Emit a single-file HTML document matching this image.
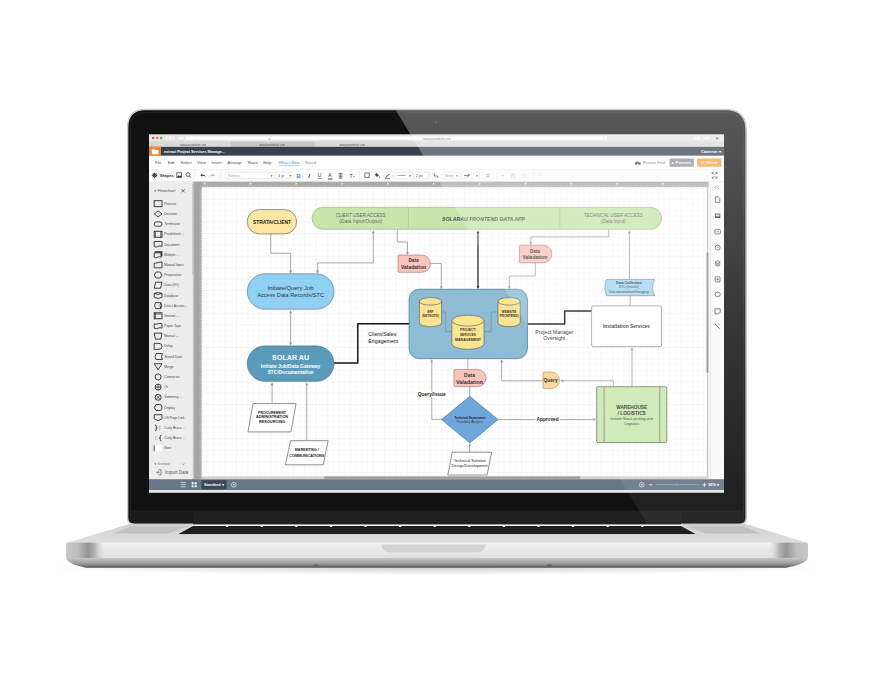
<!DOCTYPE html>
<html><head><meta charset="utf-8">
<style>
html,body{margin:0;padding:0;background:#fff;}
body{width:870px;height:683px;overflow:hidden;position:relative;font-family:"Liberation Sans",sans-serif;}
svg{position:absolute;left:0;top:0;}
</style></head>
<body>
<svg width="870" height="683" viewBox="0 0 870 683" font-family="Liberation Sans, sans-serif">
<defs>
  <linearGradient id="gFront" x1="0" y1="0" x2="0" y2="1">
    <stop offset="0" stop-color="#f2f2f2"/><stop offset="1" stop-color="#e0e0e0"/>
  </linearGradient>
  <linearGradient id="gBottom" x1="0" y1="0" x2="0" y2="1">
    <stop offset="0" stop-color="#c6c6c6"/><stop offset="0.5" stop-color="#a2a2a2"/><stop offset="0.8" stop-color="#7a7a7a"/><stop offset="1" stop-color="#4a4a4a"/>
  </linearGradient>
  <linearGradient id="gTop" x1="0" y1="0" x2="0" y2="1">
    <stop offset="0" stop-color="#d2d2d2"/><stop offset="1" stop-color="#dedede"/>
  </linearGradient>
  <linearGradient id="gEndL" x1="0" y1="0" x2="1" y2="0">
    <stop offset="0" stop-color="#c8c8c8"/><stop offset="0.3" stop-color="#bdbdbd"/><stop offset="0.55" stop-color="#949494"/><stop offset="0.72" stop-color="#b4b4b4"/><stop offset="1" stop-color="#ececec" stop-opacity="0"/>
  </linearGradient>
  <linearGradient id="gEndR" x1="1" y1="0" x2="0" y2="0">
    <stop offset="0" stop-color="#c8c8c8"/><stop offset="0.3" stop-color="#bdbdbd"/><stop offset="0.55" stop-color="#949494"/><stop offset="0.72" stop-color="#b4b4b4"/><stop offset="1" stop-color="#ececec" stop-opacity="0"/>
  </linearGradient>
  <linearGradient id="gGlare" x1="0" y1="0" x2="0" y2="1">
    <stop offset="0" stop-color="#fff" stop-opacity="0.30"/><stop offset="0.5" stop-color="#fff" stop-opacity="0.16"/><stop offset="1" stop-color="#fff" stop-opacity="0.05"/>
  </linearGradient>
  <radialGradient id="gShadow" cx="0.5" cy="0.5" r="0.5">
    <stop offset="0" stop-color="#000" stop-opacity="0.18"/><stop offset="1" stop-color="#000" stop-opacity="0"/>
  </radialGradient>
  <pattern id="grid" x="201.8" y="187.4" width="11.4" height="11.4" patternUnits="userSpaceOnUse">
    <path d="M5.7,0 V11.4 M0,5.7 H11.4" stroke="#f5f5f5" stroke-width="0.5" fill="none"/>
    <path d="M0,0 V11.4 M0,0 H11.4" stroke="#dedede" stroke-width="0.5" fill="none"/>
  </pattern>
  <clipPath id="canvasClip"><rect x="201.8" y="187.4" width="504.8" height="288.8"/></clipPath>
  <clipPath id="lidClip"><path d="M146,110 H725 Q746,110 746,131 V518 Q746,524 740,524 H134 Q128,524 128,518 V128 Q128,110 146,110 Z"/></clipPath>
</defs>

<!-- shadow under base -->
<ellipse cx="437" cy="568" rx="400" ry="7" fill="url(#gShadow)"/>

<!-- BASE -->
<polygon points="66,543 129.5,524 745.5,524 808,543" fill="url(#gTop)"/>
<polygon points="113,533.4 131.7,526 188.7,526 168.5,533.4" fill="#c2c2c2"/>
<polygon points="761,533.4 742.3,526 685.3,526 705.5,533.4" fill="#c2c2c2"/>
<polygon points="177.7,534.4 193.5,525.8 680.5,525.8 696.3,534.4" fill="#1e1e1e"/>
<polygon points="192.5,524.2 681.5,524.2 682.8,525.9 191.2,525.9" fill="#f2f2f2"/>
<rect x="178" y="534.2" width="518" height="0.8" fill="#e8e8e8"/>
<rect x="226.0" y="525.6" width="2.2" height="1.3" fill="#f4f4f4"/><rect x="260.6" y="525.6" width="2.2" height="1.3" fill="#f4f4f4"/><rect x="295.2" y="525.6" width="2.2" height="1.3" fill="#f4f4f4"/><rect x="329.8" y="525.6" width="2.2" height="1.3" fill="#f4f4f4"/><rect x="364.4" y="525.6" width="2.2" height="1.3" fill="#f4f4f4"/><rect x="399.0" y="525.6" width="2.2" height="1.3" fill="#f4f4f4"/><rect x="433.6" y="525.6" width="2.2" height="1.3" fill="#f4f4f4"/><rect x="468.2" y="525.6" width="2.2" height="1.3" fill="#f4f4f4"/><rect x="502.8" y="525.6" width="2.2" height="1.3" fill="#f4f4f4"/><rect x="537.4" y="525.6" width="2.2" height="1.3" fill="#f4f4f4"/><rect x="572.0" y="525.6" width="2.2" height="1.3" fill="#f4f4f4"/><rect x="606.6" y="525.6" width="2.2" height="1.3" fill="#f4f4f4"/><rect x="641.2" y="525.6" width="2.2" height="1.3" fill="#f4f4f4"/>
<!-- front face -->
<path d="M70,542.6 H804 Q808,543 808,548 V556 Q808,558.2 804,558.2 H70 Q66,558.2 66,556 V548 Q66,543 70,542.6 Z" fill="url(#gFront)"/>
<rect x="66" y="542.6" width="40" height="15.6" rx="2" fill="url(#gEndL)"/>
<rect x="768" y="542.6" width="40" height="15.6" rx="2" fill="url(#gEndR)"/>
<path d="M381,544.6 H486 Q484,552.4 478,552.4 H389 Q383,552.4 381,544.6 Z" fill="#d3d3d3"/>
<!-- bottom -->
<path d="M66,558 H808 Q806,564 786,567.8 H86 Q68,564 66,558 Z" fill="url(#gBottom)"/>
<ellipse cx="316" cy="565.2" rx="2.6" ry="0.7" fill="#444" opacity="0.6"/><ellipse cx="549.5" cy="565.2" rx="2.6" ry="0.7" fill="#444" opacity="0.6"/>

<!-- LID -->
<path d="M145.6,109.6 H725.2 Q746.2,109.6 746.2,130.6 V518 Q746.2,524 740.2,524 H133.6 Q127.6,524 127.6,518 V127.6 Q127.6,109.6 145.6,109.6 Z" fill="#111" stroke="#cacaca" stroke-width="1.5"/>
<path d="M146,112.4 H725 Q743.4,112.4 743.4,131 V510 M130.4,510 V128 Q130.4,112.4 146,112.4" fill="none" stroke="#242424" stroke-width="0.8"/>
<path d="M130.4,505 V517.5 Q130.4,523.2 136,523.2 H738 Q743.6,523.2 743.6,517.5 V505" fill="none" stroke="#2a2a2a" stroke-width="0.7"/>
<path d="M131,511 H743 V517.5 Q743,522.8 737.5,522.8 H136.5 Q131,522.8 131,517.5 Z" fill="#1a1a1a"/>
<path d="M131,511 H743" stroke="#222" stroke-width="0.6"/>
<rect x="193" y="512" width="488" height="12.3" fill="#1f1f1f"/>
<circle cx="436" cy="122" r="1.6" fill="#2a2a2a"/>

<!-- SCREEN -->
<g id="screen">
  <rect x="149" y="134.7" width="575" height="357.8" fill="#fff"/>
<rect x="149" y="134.7" width="575" height="6.9" fill="#e4e4e4"/>
<rect x="149" y="134.7" width="575" height="1.2" fill="#ececec"/>
<circle cx="153.1" cy="138.1" r="1.25" fill="#e0544c"/>
<circle cx="157.2" cy="138.1" r="1.25" fill="#e5705a"/>
<circle cx="161.2" cy="138.1" r="1.25" fill="#5bb55a"/>
<rect x="165" y="136.2" width="10.5" height="3.9" rx="0.8" fill="#f7f7f7" stroke="#cfcfcf" stroke-width="0.3"/>
<path d="M168.6,137.3 l-1,0.9 l1,0.9 M172.2,137.3 l1,0.9 l-1,0.9" fill="none" stroke="#999" stroke-width="0.35"/>
<rect x="177.8" y="136.2" width="6.6" height="3.9" rx="0.8" fill="#f7f7f7" stroke="#cfcfcf" stroke-width="0.3"/>
<rect x="185.2" y="136.2" width="422" height="4" rx="0.6" fill="#ffffff" stroke="#d6d6d6" stroke-width="0.3"/>
<text x="437" y="139.6" font-size="2.8" fill="#666" text-anchor="middle">www.yourwebsite.com</text>
<text x="268" y="139.6" font-size="2.8" fill="#999">⊕</text>
<text x="603" y="139.7" font-size="3" fill="#999">×</text>
<rect x="693" y="136.3" width="8" height="3.8" rx="0.8" fill="#f4f4f4" stroke="#cfcfcf" stroke-width="0.3"/>
<rect x="703" y="136.3" width="8" height="3.8" rx="0.8" fill="#f4f4f4" stroke="#cfcfcf" stroke-width="0.3"/>
<circle cx="717" cy="138.2" r="1.2" fill="#888"/>
<rect x="149" y="141.6" width="575" height="5.2" fill="#d9d9d9"/>
<rect x="149" y="141.6" width="575" height="0.3" fill="#c4c4c4"/>
<rect x="231" y="141.8" width="84" height="5" fill="#c8c8c8"/>
<text x="193" y="145.6" font-size="2.6" fill="#555" text-anchor="middle">www.yourwebsite.com</text>
<text x="272" y="145.6" font-size="2.6" fill="#555" text-anchor="middle">www.yourwebsite.com</text>
<text x="352" y="145.6" font-size="2.6" fill="#555" text-anchor="middle">www.yourwebsite.com</text>
<text x="151" y="145.6" font-size="2.6" fill="#777">+</text>
<rect x="149" y="146.8" width="575" height="9.0" fill="#37424d"/>
<rect x="149" y="146.8" width="12" height="9.0" fill="#f0892a"/>
<path d="M151.8,149.2 h2.6 l0.8,0.8 h3.2 v4.2 h-6.6 z" fill="#fff"/>
<text x="164" y="152.6" font-size="3.75" font-weight="bold" fill="#fff">extract Project Services Manage...</text>
<text x="701" y="152.7" font-size="3.85" font-weight="bold" fill="#fff">Cameron ▾</text>
<rect x="149" y="155.8" width="575" height="13.7" fill="#ffffff"/>
<text x="155" y="164.3" font-size="4.0" fill="#4a4a4a">File</text>
<text x="167.8" y="164.3" font-size="4.0" fill="#4a4a4a">Edit</text>
<text x="180.5" y="164.3" font-size="4.0" fill="#4a4a4a">Select</text>
<text x="197.3" y="164.3" font-size="4.0" fill="#4a4a4a">View</text>
<text x="211.5" y="164.3" font-size="4.0" fill="#4a4a4a">Insert</text>
<text x="227.6" y="164.3" font-size="4.0" fill="#4a4a4a">Arrange</text>
<text x="247.2" y="164.3" font-size="4.0" fill="#4a4a4a">Share</text>
<text x="263.2" y="164.3" font-size="4.0" fill="#4a4a4a">Help</text>
<text x="278.2" y="164.3" font-size="4.05" fill="#3a8fd6">What's New</text>
<rect x="278.2" y="165.2" width="21.4" height="0.35" fill="#3a8fd6"/>
<text x="304.7" y="164.3" font-size="4.0" fill="#888">Saved</text>
<text x="643" y="164.1" font-size="3.85" fill="#666">Feature Find</text>
<path d="M635,163.8 l0.8,-2.2 h2.6 l0.8,2.2" fill="#555"/><circle cx="636.2" cy="163.6" r="1.4" fill="#555"/><circle cx="639.4" cy="163.6" r="1.4" fill="#555"/>
<rect x="669.6" y="158.5" width="24.2" height="8.2" rx="0.8" fill="#8c939b"/>
<text x="681.7" y="164.2" font-size="4.2" font-weight="bold" fill="#fff" text-anchor="middle">▸ Present</text>
<rect x="697" y="158.5" width="24.5" height="8.2" rx="0.8" fill="#f5a045"/>
<text x="709.2" y="164.2" font-size="4.2" font-weight="bold" fill="#fff" text-anchor="middle">⚇ Share</text>
<rect x="149" y="169.5" width="575" height="12.3" fill="#fbfbfb"/>
<rect x="149" y="169.5" width="575" height="0.4" fill="#e2e2e2"/>
<rect x="149" y="181.4" width="575" height="0.4" fill="#d8d8d8"/>
<circle cx="154.6" cy="175.4" r="1.6" fill="none" stroke="#333" stroke-width="1.1"/><path d="M154.6,172.6 v5.6 M151.8,175.4 h5.6 M152.6,173.4 l4,4 M156.6,173.4 l-4,4" stroke="#333" stroke-width="0.7"/>
<text x="159.8" y="177.4" font-size="3.9" font-weight="bold" fill="#333">Shapes</text>
<rect x="176.8" y="172.8" width="4.6" height="4.6" fill="none" stroke="#333" stroke-width="0.7"/><path d="M177,177 l1.6,-1.8 l1.2,1 l1.4,-1.4 v2.4z" fill="#333"/>
<circle cx="188" cy="174.6" r="1.9" fill="none" stroke="#333" stroke-width="0.7"/><line x1="189.3" y1="176" x2="191" y2="177.8" stroke="#333" stroke-width="0.8"/>
<rect x="194.5" y="171" width="0.35" height="9.5" fill="#ddd"/>
<rect x="220.4" y="171" width="0.35" height="9.5" fill="#ddd"/>
<rect x="359" y="171" width="0.35" height="9.5" fill="#ddd"/>
<rect x="392.8" y="171" width="0.35" height="9.5" fill="#ddd"/>
<rect x="496" y="171" width="0.35" height="9.5" fill="#ddd"/>
<rect x="533.7" y="171" width="0.35" height="9.5" fill="#ddd"/>
<path d="M200.3,175.2 l2,-1.6 v1 q3,0 3.5,2.6 q-1.2,-1.4 -3.5,-1.4 v1 z" fill="#444"/>
<path d="M214.8,175.2 l-2,-1.6 v1 q-3,0 -3.5,2.6 q1.2,-1.4 3.5,-1.4 v1 z" fill="#bbb"/>
<rect x="225.6" y="172.2" width="48.3" height="6.2" rx="0.6" fill="#fff" stroke="#cfcfcf" stroke-width="0.35"/>
<text x="228" y="176.8" font-size="3.8" fill="#aaa">Roboto</text>
<text x="270" y="176.8" font-size="3" fill="#444">▼</text>
<rect x="275.6" y="172.2" width="17.2" height="6.2" rx="0.6" fill="#fff" stroke="#cfcfcf" stroke-width="0.35"/>
<text x="278" y="176.8" font-size="3.8" fill="#666">4 pt</text>
<text x="289" y="176.8" font-size="3" fill="#444">▼</text>
<text x="296.6" y="178" font-size="5.8" font-weight="bold" fill="#3a8fd6">B</text>
<text x="308.2" y="178" font-size="5.8" font-style="italic" font-weight="bold" fill="#333">I</text>
<text x="317.8" y="177.4" font-size="5" fill="#333">U</text><rect x="317.8" y="178.5" width="3.8" height="0.5" fill="#333"/>
<text x="328.3" y="177.4" font-size="5" fill="#333">A</text><rect x="328.1" y="178.6" width="4.4" height="0.8" fill="#222"/>
<path d="M338.6,173.4 h4 M338.6,175 h4 M338.6,176.6 h4 M338.6,178.2 h4" stroke="#444" stroke-width="0.6"/><path d="M340.6,172.8 v6" stroke="#444" stroke-width="0.5"/>
<text x="349.4" y="177.8" font-size="5.2" fill="#444">T</text><path d="M353.2,176.4 h1.6" stroke="#444" stroke-width="0.5"/>
<rect x="364.9" y="173" width="4.3" height="4.3" fill="none" stroke="#444" stroke-width="0.7"/>
<path d="M374.8,174.8 l1.8,-1.8 l2.2,2.2 l-1.8,1.8 z" fill="#444"/><circle cx="379.4" cy="177" r="0.6" fill="#444"/>
<path d="M385.5,177.8 l3.8,-3.8" stroke="#333" stroke-width="0.9"/><rect x="385" y="178.6" width="5" height="0.5" fill="#222"/>
<rect x="395.6" y="172.2" width="17.2" height="6.2" rx="0.6" fill="#fff" stroke="#cfcfcf" stroke-width="0.35"/>
<rect x="397.5" y="175.1" width="8" height="0.5" fill="#555"/><text x="408.5" y="176.8" font-size="3" fill="#444">▼</text>
<rect x="414" y="172.2" width="15" height="6.2" rx="0.6" fill="#fff" stroke="#cfcfcf" stroke-width="0.35"/>
<text x="416" y="176.8" font-size="3.6" fill="#555">2 px</text>
<path d="M434.3,173 v3 h3.4 v2" fill="none" stroke="#444" stroke-width="0.7"/>
<rect x="443.3" y="172.2" width="16.4" height="6.2" rx="0.6" fill="#fff" stroke="#cfcfcf" stroke-width="0.35"/>
<text x="445" y="176.8" font-size="3.6" fill="#777">None</text><text x="455.5" y="176.8" font-size="3" fill="#444">▼</text>
<rect x="461.4" y="172.2" width="18" height="6.2" rx="0.6" fill="#fff" stroke="#cfcfcf" stroke-width="0.35"/>
<path d="M464,175.3 h6 l-1.5,-1.3 v2.6 z" fill="#444" stroke="#444" stroke-width="0.4"/><text x="475.5" y="176.8" font-size="3" fill="#444">▼</text>
<text x="485.6" y="177" font-size="4.2" fill="#bbb">⇄</text>
<text x="500.5" y="177.2" font-size="4.4" fill="#bbb">⚭</text>
<path d="M511.8,177.8 v-2.4 q0,-1.6 1.4,-1.6 q1.4,0 1.4,1.6 v2.4" fill="none" stroke="#aaa" stroke-width="0.6"/>
<circle cx="524" cy="175.6" r="1.6" fill="none" stroke="#ccc" stroke-width="0.5"/>
<path d="M538.8,173.6 l2.6,2.6" stroke="#ccc" stroke-width="0.6"/>
<path d="M712.3,172.6 l2,2 M712.3,172.6 h1.4 M712.3,172.6 v1.4 M717,172.6 l-2,2 M717,172.6 h-1.4 M717,172.6 v1.4 M712.3,178.2 l2,-2 M712.3,178.2 h1.4 M712.3,178.2 v-1.4 M717,178.2 l-2,-2 M717,178.2 h-1.4 M717,178.2 v-1.4" stroke="#333" stroke-width="0.7"/>
<rect x="149" y="181.8" width="44.8" height="297.4" fill="#ededed"/>
<rect x="192" y="181.8" width="1.6" height="297.4" fill="#e2e2e2"/>
<rect x="192.2" y="184" width="1.2" height="90" fill="#c4c4c4"/>
<text x="153.8" y="191.8" font-size="3" fill="#555">▼</text>
<text x="157.5" y="192.1" font-size="4.15" fill="#555">Flowchart</text>
<path d="M181.5,189.2 l3.2,3.2 M184.7,189.2 l-3.2,3.2" stroke="#333" stroke-width="0.65"/>
<rect x="154.2" y="200.7" width="7.8" height="6" fill="none" stroke="#222" stroke-width="0.85"/>
<text x="164.3" y="204.79999999999998" font-size="3.3" fill="#444">Process</text>
<path d="M154.2,213.89 L158.1,210.89 L162.0,213.89 L158.1,216.89 Z" fill="none" stroke="#222" stroke-width="0.85"/>
<text x="164.3" y="214.98999999999998" font-size="3.3" fill="#444">Decision</text>
<rect x="154.2" y="221.88" width="7.8" height="4.4" rx="2.2" fill="none" stroke="#222" stroke-width="0.85"/>
<text x="164.3" y="225.17999999999998" font-size="3.3" fill="#444">Terminator</text>
<rect x="154.2" y="231.26999999999998" width="7.8" height="6" fill="none" stroke="#222" stroke-width="0.85"/><path d="M155.4,231.26999999999998 v6 M160.8,231.26999999999998 v6" stroke="#222" stroke-width="0.7"/>
<text x="164.3" y="235.36999999999998" font-size="3.3" fill="#444">Predefined ...</text>
<path d="M154.2,241.45999999999998 h7.8 v5 q-2,-1.2 -3.9,0 q-1.9,1.2 -3.9,0 z" fill="none" stroke="#222" stroke-width="0.85"/>
<text x="164.3" y="245.55999999999997" font-size="3.3" fill="#444">Document</text>
<path d="M154.2,252.84999999999997 h6.8 v4.4 q-1.7,-1 -3.4,0 q-1.7,1 -3.4,0 z" fill="none" stroke="#222" stroke-width="0.85"/><path d="M154.79999999999998,251.84999999999997 h7 v4.6" fill="none" stroke="#222" stroke-width="1.2"/>
<text x="164.3" y="255.74999999999997" font-size="3.3" fill="#444">Multiple ...</text>
<path d="M154.2,263.34 L162.0,261.84 V267.84 H154.2 Z" fill="none" stroke="#222" stroke-width="0.85"/>
<text x="164.3" y="265.94" font-size="3.3" fill="#444">Manual Input</text>
<path d="M154.2,275.03 L156,272.03 H160.2 L162.0,275.03 L160.2,278.03 H156 Z" fill="none" stroke="#222" stroke-width="0.85"/>
<text x="164.3" y="276.13" font-size="3.3" fill="#444">Preparation</text>
<path d="M155.6,282.21999999999997 H162.0 L160.6,288.21999999999997 H154.2 Z" fill="none" stroke="#222" stroke-width="0.85"/>
<text x="164.3" y="286.32" font-size="3.3" fill="#444">Data (I/O)</text>
<path d="M154.2,293.40999999999997 V297.40999999999997 Q158.1,299.40999999999997 162.0,297.40999999999997 V293.40999999999997 Q158.1,291.40999999999997 154.2,293.40999999999997 Q158.1,295.40999999999997 162.0,293.40999999999997" fill="none" stroke="#222" stroke-width="0.85"/>
<text x="164.3" y="296.51" font-size="3.3" fill="#444">Database</text>
<path d="M155.5,302.59999999999997 H160.7 Q162.8,305.59999999999997 160.7,308.59999999999997 H155.5 Q153.6,305.59999999999997 155.5,302.59999999999997 M160.7,302.59999999999997 Q159.3,305.59999999999997 160.7,308.59999999999997" fill="none" stroke="#222" stroke-width="0.85"/>
<text x="164.3" y="306.7" font-size="3.3" fill="#444">Direct Access...</text>
<rect x="154.2" y="312.78999999999996" width="7.8" height="6" fill="none" stroke="#222" stroke-width="0.85"/><path d="M154.2,313.98999999999995 h7.8 M155.4,312.78999999999996 v6" stroke="#222" stroke-width="0.7"/>
<text x="164.3" y="316.89" font-size="3.3" fill="#444">Internal ...</text>
<path d="M154.2,323.78000000000003 q2,1 3.9,0 q1.9,-1 3.9,0 v4.4 q-2,-1 -3.9,0 q-1.9,1 -3.9,0 z" fill="none" stroke="#222" stroke-width="0.85"/>
<text x="164.3" y="327.08000000000004" font-size="3.3" fill="#444">Paper Tape</text>
<path d="M154.2,333.16999999999996 H162.0 L160.8,339.16999999999996 H155.4 Z" fill="none" stroke="#222" stroke-width="0.85"/>
<text x="164.3" y="337.27" font-size="3.3" fill="#444">Manual ...</text>
<path d="M154.2,343.36 H159 Q162.0,343.36 162.0,346.36 Q162.0,349.36 159,349.36 H154.2 Z" fill="none" stroke="#222" stroke-width="0.85"/>
<text x="164.3" y="347.46000000000004" font-size="3.3" fill="#444">Delay</text>
<path d="M156,353.54999999999995 H162.4 Q160.6,356.54999999999995 162.4,359.54999999999995 H156 Q154.2,356.54999999999995 156,353.54999999999995 Z" fill="none" stroke="#222" stroke-width="0.85"/>
<text x="164.3" y="357.65" font-size="3.3" fill="#444">Stored Data</text>
<path d="M154.2,363.74 H162.0 L158.1,369.74 Z" fill="none" stroke="#222" stroke-width="0.85"/>
<text x="164.3" y="367.84000000000003" font-size="3.3" fill="#444">Merge</text>
<circle cx="158.1" cy="376.92999999999995" r="3" fill="none" stroke="#222" stroke-width="0.85"/>
<text x="164.3" y="378.03" font-size="3.3" fill="#444">Connector</text>
<circle cx="158.1" cy="387.12" r="3" fill="none" stroke="#222" stroke-width="0.85"/><path d="M155.1,387.12 h6 M158.1,384.12 v6" stroke="#222" stroke-width="0.7"/>
<text x="164.3" y="388.22" font-size="3.3" fill="#444">Or</text>
<circle cx="158.1" cy="397.30999999999995" r="3" fill="none" stroke="#222" stroke-width="0.85"/><path d="M156,395.2099999999999 l4.2,4.2 M160.2,395.2099999999999 l-4.2,4.2" stroke="#222" stroke-width="0.7"/>
<text x="164.3" y="398.40999999999997" font-size="3.3" fill="#444">Summing ...</text>
<path d="M156,404.5 H160 Q162.0,404.5 162.0,407.5 Q162.0,410.5 160,410.5 H156 L154.2,407.5 Z" fill="none" stroke="#222" stroke-width="0.85"/>
<text x="164.3" y="408.6" font-size="3.3" fill="#444">Display</text>
<path d="M154.2,414.68999999999994 H162.0 V418.68999999999994 L158.1,420.68999999999994 L154.2,418.68999999999994 Z" fill="none" stroke="#222" stroke-width="0.85"/>
<text x="164.3" y="418.78999999999996" font-size="3.3" fill="#444">Off-Page Link</text>
<path d="M155,424.88 q1.2,0 1.2,1.5 v1 q0,0.5 1,0.5 q-1,0 -1,0.5 v1 q0,1.5 -1.2,1.5" fill="none" stroke="#222" stroke-width="0.85"/><path d="M159,426.38 h1.5 M159,427.88 h1.5 M159,429.38 h1.5" stroke="#555" stroke-width="0.4"/>
<text x="164.3" y="428.98" font-size="3.3" fill="#444">Curly Brace ...</text>
<path d="M161.5,435.06999999999994 q-1.2,0 -1.2,1.5 v1 q0,0.5 -1,0.5 q1,0 1,0.5 v1 q0,1.5 1.2,1.5" fill="none" stroke="#222" stroke-width="0.85"/><path d="M155,436.56999999999994 h1.5 M155,438.06999999999994 h1.5 M155,439.56999999999994 h1.5" stroke="#555" stroke-width="0.4"/>
<text x="164.3" y="439.16999999999996" font-size="3.3" fill="#444">Curly Brace ...</text>
<rect x="154.2" y="445.26" width="7.8" height="6" fill="#fff"/><path d="M154.2,445.26 v6" stroke="#222" stroke-width="0.8"/>
<text x="164.3" y="449.36" font-size="3.3" fill="#444">Note</text>
<text x="153.8" y="465.2" font-size="3" fill="#777">▼  Standard</text>
<path d="M182,463.5 l1.3,1.3 l1.3,-1.3" fill="none" stroke="#555" stroke-width="0.5"/>
<rect x="149" y="467.5" width="43" height="0.35" fill="#e2e2e2"/>
<path d="M156,472.3 h3.2 m-1.2,-1.2 l1.2,1.2 l-1.2,1.2 M158.4,469.8 h2.6 v5 h-2.6" fill="none" stroke="#444" stroke-width="0.6"/>
<text x="164.8" y="474.3" font-size="4.5" fill="#555">Import Data</text>
<rect x="193.6" y="181.8" width="530" height="5.6" fill="#aaaaaa"/>
<rect x="193.6" y="181.8" width="8.2" height="297.4" fill="#a5a5a5"/>
<path d="M203.0,185.5 v1.9 M205.3,185.5 v1.9 M207.6,185.5 v1.9 M209.9,185.5 v1.9 M212.2,185.5 v1.9 M214.4,185.5 v1.9 M216.7,185.5 v1.9 M219.0,185.5 v1.9 M221.3,185.5 v1.9 M223.6,185.5 v1.9 M225.9,185.5 v1.9 M228.2,185.5 v1.9 M230.5,185.5 v1.9 M232.8,185.5 v1.9 M235.1,185.5 v1.9 M237.3,185.5 v1.9 M239.6,185.5 v1.9 M241.9,185.5 v1.9 M244.2,185.5 v1.9 M246.5,185.5 v1.9 M248.8,185.5 v1.9 M251.1,185.5 v1.9 M253.4,185.5 v1.9 M255.7,185.5 v1.9 M258.0,185.5 v1.9 M260.2,185.5 v1.9 M262.5,185.5 v1.9 M264.8,185.5 v1.9 M267.1,185.5 v1.9 M269.4,185.5 v1.9 M271.7,185.5 v1.9 M274.0,185.5 v1.9 M276.3,185.5 v1.9 M278.6,185.5 v1.9 M280.9,185.5 v1.9 M283.2,185.5 v1.9 M285.4,185.5 v1.9 M287.7,185.5 v1.9 M290.0,185.5 v1.9 M292.3,185.5 v1.9 M294.6,185.5 v1.9 M296.9,185.5 v1.9 M299.2,185.5 v1.9 M301.5,185.5 v1.9 M303.8,185.5 v1.9 M306.1,185.5 v1.9 M308.3,185.5 v1.9 M310.6,185.5 v1.9 M312.9,185.5 v1.9 M315.2,185.5 v1.9 M317.5,185.5 v1.9 M319.8,185.5 v1.9 M322.1,185.5 v1.9 M324.4,185.5 v1.9 M326.7,185.5 v1.9 M329.0,185.5 v1.9 M331.2,185.5 v1.9 M333.5,185.5 v1.9 M335.8,185.5 v1.9 M338.1,185.5 v1.9 M340.4,185.5 v1.9 M342.7,185.5 v1.9 M345.0,185.5 v1.9 M347.3,185.5 v1.9 M349.6,185.5 v1.9 M351.9,185.5 v1.9 M354.1,185.5 v1.9 M356.4,185.5 v1.9 M358.7,185.5 v1.9 M361.0,185.5 v1.9 M363.3,185.5 v1.9 M365.6,185.5 v1.9 M367.9,185.5 v1.9 M370.2,185.5 v1.9 M372.5,185.5 v1.9 M374.8,185.5 v1.9 M377.0,185.5 v1.9 M379.3,185.5 v1.9 M381.6,185.5 v1.9 M383.9,185.5 v1.9 M386.2,185.5 v1.9 M388.5,185.5 v1.9 M390.8,185.5 v1.9 M393.1,185.5 v1.9 M395.4,185.5 v1.9 M397.7,185.5 v1.9 M399.9,185.5 v1.9 M402.2,185.5 v1.9 M404.5,185.5 v1.9 M406.8,185.5 v1.9 M409.1,185.5 v1.9 M411.4,185.5 v1.9 M413.7,185.5 v1.9 M416.0,185.5 v1.9 M418.3,185.5 v1.9 M420.6,185.5 v1.9 M422.8,185.5 v1.9 M425.1,185.5 v1.9 M427.4,185.5 v1.9 M429.7,185.5 v1.9 M432.0,185.5 v1.9 M434.3,185.5 v1.9 M436.6,185.5 v1.9 M438.9,185.5 v1.9 M441.2,185.5 v1.9 M443.5,185.5 v1.9 M445.7,185.5 v1.9 M448.0,185.5 v1.9 M450.3,185.5 v1.9 M452.6,185.5 v1.9 M454.9,185.5 v1.9 M457.2,185.5 v1.9 M459.5,185.5 v1.9 M461.8,185.5 v1.9 M464.1,185.5 v1.9 M466.4,185.5 v1.9 M468.6,185.5 v1.9 M470.9,185.5 v1.9 M473.2,185.5 v1.9 M475.5,185.5 v1.9 M477.8,185.5 v1.9 M480.1,185.5 v1.9 M482.4,185.5 v1.9 M484.7,185.5 v1.9 M487.0,185.5 v1.9 M489.3,185.5 v1.9 M491.5,185.5 v1.9 M493.8,185.5 v1.9 M496.1,185.5 v1.9 M498.4,185.5 v1.9 M500.7,185.5 v1.9 M503.0,185.5 v1.9 M505.3,185.5 v1.9 M507.6,185.5 v1.9 M509.9,185.5 v1.9 M512.2,185.5 v1.9 M514.4,185.5 v1.9 M516.7,185.5 v1.9 M519.0,185.5 v1.9 M521.3,185.5 v1.9 M523.6,185.5 v1.9 M525.9,185.5 v1.9 M528.2,185.5 v1.9 M530.5,185.5 v1.9 M532.8,185.5 v1.9 M535.1,185.5 v1.9 M537.3,185.5 v1.9 M539.6,185.5 v1.9 M541.9,185.5 v1.9 M544.2,185.5 v1.9 M546.5,185.5 v1.9 M548.8,185.5 v1.9 M551.1,185.5 v1.9 M553.4,185.5 v1.9 M555.7,185.5 v1.9 M558.0,185.5 v1.9 M560.2,185.5 v1.9 M562.5,185.5 v1.9 M564.8,185.5 v1.9 M567.1,185.5 v1.9 M569.4,185.5 v1.9 M571.7,185.5 v1.9 M574.0,185.5 v1.9 M576.3,185.5 v1.9 M578.6,185.5 v1.9 M580.9,185.5 v1.9 M583.1,185.5 v1.9 M585.4,185.5 v1.9 M587.7,185.5 v1.9 M590.0,185.5 v1.9 M592.3,185.5 v1.9 M594.6,185.5 v1.9 M596.9,185.5 v1.9 M599.2,185.5 v1.9 M601.5,185.5 v1.9 M603.8,185.5 v1.9 M606.0,185.5 v1.9 M608.3,185.5 v1.9 M610.6,185.5 v1.9 M612.9,185.5 v1.9 M615.2,185.5 v1.9 M617.5,185.5 v1.9 M619.8,185.5 v1.9 M622.1,185.5 v1.9 M624.4,185.5 v1.9 M626.7,185.5 v1.9 M628.9,185.5 v1.9 M631.2,185.5 v1.9 M633.5,185.5 v1.9 M635.8,185.5 v1.9 M638.1,185.5 v1.9 M640.4,185.5 v1.9 M642.7,185.5 v1.9 M645.0,185.5 v1.9 M647.3,185.5 v1.9 M649.5,185.5 v1.9 M651.8,185.5 v1.9 M654.1,185.5 v1.9 M656.4,185.5 v1.9 M658.7,185.5 v1.9 M661.0,185.5 v1.9 M663.3,185.5 v1.9 M665.6,185.5 v1.9 M667.9,185.5 v1.9 M670.2,185.5 v1.9 M672.4,185.5 v1.9 M674.7,185.5 v1.9 M677.0,185.5 v1.9 M679.3,185.5 v1.9 M681.6,185.5 v1.9 M683.9,185.5 v1.9 M686.2,185.5 v1.9 M688.5,185.5 v1.9 M690.8,185.5 v1.9 M693.1,185.5 v1.9 M695.3,185.5 v1.9 M697.6,185.5 v1.9 M699.9,185.5 v1.9 M702.2,185.5 v1.9 M704.5,185.5 v1.9 M706.8,185.5 v1.9" stroke="#e8e8e8" stroke-width="0.4"/>
<path d="M199.5,189.0 h2.2 M199.5,191.3 h2.2 M199.5,193.6 h2.2 M199.5,195.9 h2.2 M199.5,198.2 h2.2 M199.5,200.4 h2.2 M199.5,202.7 h2.2 M199.5,205.0 h2.2 M199.5,207.3 h2.2 M199.5,209.6 h2.2 M199.5,211.9 h2.2 M199.5,214.2 h2.2 M199.5,216.5 h2.2 M199.5,218.8 h2.2 M199.5,221.1 h2.2 M199.5,223.3 h2.2 M199.5,225.6 h2.2 M199.5,227.9 h2.2 M199.5,230.2 h2.2 M199.5,232.5 h2.2 M199.5,234.8 h2.2 M199.5,237.1 h2.2 M199.5,239.4 h2.2 M199.5,241.7 h2.2 M199.5,244.0 h2.2 M199.5,246.2 h2.2 M199.5,248.5 h2.2 M199.5,250.8 h2.2 M199.5,253.1 h2.2 M199.5,255.4 h2.2 M199.5,257.7 h2.2 M199.5,260.0 h2.2 M199.5,262.3 h2.2 M199.5,264.6 h2.2 M199.5,266.9 h2.2 M199.5,269.1 h2.2 M199.5,271.4 h2.2 M199.5,273.7 h2.2 M199.5,276.0 h2.2 M199.5,278.3 h2.2 M199.5,280.6 h2.2 M199.5,282.9 h2.2 M199.5,285.2 h2.2 M199.5,287.5 h2.2 M199.5,289.8 h2.2 M199.5,292.1 h2.2 M199.5,294.3 h2.2 M199.5,296.6 h2.2 M199.5,298.9 h2.2 M199.5,301.2 h2.2 M199.5,303.5 h2.2 M199.5,305.8 h2.2 M199.5,308.1 h2.2 M199.5,310.4 h2.2 M199.5,312.7 h2.2 M199.5,315.0 h2.2 M199.5,317.2 h2.2 M199.5,319.5 h2.2 M199.5,321.8 h2.2 M199.5,324.1 h2.2 M199.5,326.4 h2.2 M199.5,328.7 h2.2 M199.5,331.0 h2.2 M199.5,333.3 h2.2 M199.5,335.6 h2.2 M199.5,337.9 h2.2 M199.5,340.1 h2.2 M199.5,342.4 h2.2 M199.5,344.7 h2.2 M199.5,347.0 h2.2 M199.5,349.3 h2.2 M199.5,351.6 h2.2 M199.5,353.9 h2.2 M199.5,356.2 h2.2 M199.5,358.5 h2.2 M199.5,360.8 h2.2 M199.5,363.0 h2.2 M199.5,365.3 h2.2 M199.5,367.6 h2.2 M199.5,369.9 h2.2 M199.5,372.2 h2.2 M199.5,374.5 h2.2 M199.5,376.8 h2.2 M199.5,379.1 h2.2 M199.5,381.4 h2.2 M199.5,383.7 h2.2 M199.5,385.9 h2.2 M199.5,388.2 h2.2 M199.5,390.5 h2.2 M199.5,392.8 h2.2 M199.5,395.1 h2.2 M199.5,397.4 h2.2 M199.5,399.7 h2.2 M199.5,402.0 h2.2 M199.5,404.3 h2.2 M199.5,406.6 h2.2 M199.5,408.8 h2.2 M199.5,411.1 h2.2 M199.5,413.4 h2.2 M199.5,415.7 h2.2 M199.5,418.0 h2.2 M199.5,420.3 h2.2 M199.5,422.6 h2.2 M199.5,424.9 h2.2 M199.5,427.2 h2.2 M199.5,429.5 h2.2 M199.5,431.7 h2.2 M199.5,434.0 h2.2 M199.5,436.3 h2.2 M199.5,438.6 h2.2 M199.5,440.9 h2.2 M199.5,443.2 h2.2 M199.5,445.5 h2.2 M199.5,447.8 h2.2 M199.5,450.1 h2.2 M199.5,452.4 h2.2 M199.5,454.6 h2.2 M199.5,456.9 h2.2 M199.5,459.2 h2.2 M199.5,461.5 h2.2 M199.5,463.8 h2.2 M199.5,466.1 h2.2 M199.5,468.4 h2.2 M199.5,470.7 h2.2 M199.5,473.0 h2.2 M199.5,475.3 h2.2" stroke="#e8e8e8" stroke-width="0.4"/>
<path d="M203.8,182.5 l2,1.3 l-2,1.3 z" fill="#f2f2f2"/>
<path d="M249.7,182.5 l2,1.3 l-2,1.3 z" fill="#f2f2f2"/>
<path d="M295.5,182.5 l2,1.3 l-2,1.3 z" fill="#f2f2f2"/>
<path d="M341.4,182.5 l2,1.3 l-2,1.3 z" fill="#f2f2f2"/>
<path d="M387.2,182.5 l2,1.3 l-2,1.3 z" fill="#f2f2f2"/>
<path d="M433.1,182.5 l2,1.3 l-2,1.3 z" fill="#f2f2f2"/>
<path d="M478.9,182.5 l2,1.3 l-2,1.3 z" fill="#f2f2f2"/>
<path d="M524.8,182.5 l2,1.3 l-2,1.3 z" fill="#f2f2f2"/>
<path d="M570.6,182.5 l2,1.3 l-2,1.3 z" fill="#f2f2f2"/>
<path d="M616.5,182.5 l2,1.3 l-2,1.3 z" fill="#f2f2f2"/>
<path d="M662.3,182.5 l2,1.3 l-2,1.3 z" fill="#f2f2f2"/>
<rect x="201.8" y="187.4" width="506.2" height="288.8" fill="#ffffff"/>
<rect x="201.8" y="187.4" width="506.2" height="288.8" fill="url(#grid)"/>
<rect x="706.8" y="187.4" width="1.6" height="288.8" fill="#c2c2c2"/>
<rect x="706.6" y="252.5" width="2" height="120.5" rx="0.8" fill="#8a8a8a"/>
<rect x="201.8" y="476.2" width="522" height="3" fill="#d4d4d4"/>
<rect x="324" y="476.5" width="256.5" height="2.2" rx="1" fill="#9b9b9b"/>
<rect x="708.6" y="181.8" width="15.4" height="297.4" fill="#f3f3f3"/>
<rect x="711" y="181.8" width="13" height="297.4" fill="#fafafa"/>
<rect x="710.6" y="187.4" width="0.5" height="288.8" fill="#dadada"/>
<path d="M716.6,185.6 l-1.6,1.8 l1.6,1.8 M719,185.6 l-1.6,1.8 l1.6,1.8" fill="none" stroke="#555" stroke-width="0.55"/>
<path d="M715.4,196.8 h2.8 l1.5,1.5 v4.2 h-4.3 z" fill="none" stroke="#333" stroke-width="0.7"/>
<rect x="715" y="213.6" width="5.2" height="4.4" fill="#333"/><rect x="715.8" y="214.4" width="3.6" height="2" fill="#ddd"/>
<rect x="714.8" y="229.6" width="5.6" height="4.4" rx="0.6" fill="none" stroke="#333" stroke-width="0.7"/><path d="M716.2,231.8 h2.8" stroke="#333" stroke-width="0.6"/>
<circle cx="717.6" cy="247.7" r="2.5" fill="none" stroke="#333" stroke-width="0.7"/><path d="M717.6,246.2 v1.6 h1" stroke="#333" stroke-width="0.5" fill="none"/>
<path d="M717.6,260.6 l2.6,1.4 l-2.6,1.4 l-2.6,-1.4 z M715,263.4 l2.6,1.4 l2.6,-1.4 M715,264.8 l2.6,1.4 l2.6,-1.4" fill="none" stroke="#333" stroke-width="0.7"/>
<rect x="715.2" y="276.8" width="4.8" height="5.2" rx="0.6" fill="none" stroke="#333" stroke-width="0.7"/><path d="M717.6,278 v2.8 M716.2,279.4 h2.8" stroke="#333" stroke-width="0.5"/>
<ellipse cx="717.6" cy="294.4" rx="2.7" ry="2.2" fill="none" stroke="#333" stroke-width="0.7"/>
<path d="M715,308.8 h5.2 v3.6 l-2,1.4 h-3.2 z" fill="none" stroke="#333" stroke-width="0.7"/>
<path d="M715,324 l4.6,4.6 M718.6,324 l1.2,1.2" stroke="#333" stroke-width="0.8"/>
<rect x="149" y="479.2" width="575" height="11.1" fill="#6a7786"/>
<rect x="149" y="490.3" width="575" height="2.2" fill="#e9e9e9"/>
<path d="M180.8,482.4 h5 M180.8,484.6 h5 M180.8,486.8 h5" stroke="#fff" stroke-width="0.6"/>
<path d="M191.6,482.3 h2 v2 h-2 z M194.6,482.3 h2 v2 h-2 z M191.6,485.3 h2 v2 h-2 z M194.6,485.3 h2 v2 h-2 z" fill="#fff"/>
<rect x="201.4" y="480.2" width="25.2" height="9.2" fill="#3b4856"/>
<text x="204" y="486.2" font-size="3.8" font-weight="bold" fill="#fff">Standard ▾</text>
<circle cx="233.8" cy="484.8" r="2.4" fill="none" stroke="#fff" stroke-width="0.6"/><circle cx="233.8" cy="484.8" r="0.8" fill="#fff"/>
<circle cx="641.8" cy="484.8" r="2.3" fill="none" stroke="#fff" stroke-width="0.6"/><circle cx="641.8" cy="484.8" r="0.7" fill="#fff"/>
<rect x="649" y="484.5" width="3.4" height="0.7" fill="#fff"/>
<rect x="656.5" y="484.6" width="43" height="0.5" fill="#b8c0c8"/>
<circle cx="676.7" cy="484.6" r="1.7" fill="#4a9fe8"/>
<path d="M702.5,484.8 h4 M704.5,482.8 v4" stroke="#fff" stroke-width="0.7"/>
<text x="708.2" y="486.3" font-size="3.8" font-weight="bold" fill="#fff">96% ▾</text>
<g clip-path="url(#canvasClip)">
<path d="M270.8,233.9 L270.8,253.3 L290.6,253.3 L290.6,271.8" fill="none" stroke="#999999" stroke-width="0.85" stroke-linejoin="round"/>
<polygon points="290.60,273.60 289.15,270.60 292.05,270.60" fill="#999999"/>
<path d="M317.6,271.8 L317.6,262.9 L373.3,262.9 L373.3,232" fill="none" stroke="#999999" stroke-width="0.85" stroke-linejoin="round"/>
<polygon points="317.60,273.60 316.15,270.60 319.05,270.60" fill="#999999"/>
<polygon points="373.30,230.20 371.85,233.20 374.75,233.20" fill="#999999"/>
<path d="M397.3,229.3 L397.3,242 L407.4,242 L407.4,253" fill="none" stroke="#999999" stroke-width="0.85" stroke-linejoin="round"/>
<polygon points="407.40,255.00 405.95,252.00 408.85,252.00" fill="#999999"/>
<path d="M430.4,263.4 L441.3,263.4 L441.3,287" fill="none" stroke="#999999" stroke-width="0.85" stroke-linejoin="round"/>
<polygon points="441.30,289.20 439.85,286.20 442.75,286.20" fill="#999999"/>
<path d="M478,232.5 L478,286.5" fill="none" stroke="#1a1a1a" stroke-width="1.2" stroke-linejoin="round"/>
<polygon points="478.00,230.40 476.60,233.20 479.40,233.20" fill="#1a1a1a"/>
<polygon points="478.00,289.00 476.60,286.20 479.40,286.20" fill="#1a1a1a"/>
<path d="M608.7,229.3 L608.7,236.9 L530.8,236.9 L530.8,243" fill="none" stroke="#999999" stroke-width="0.85" stroke-linejoin="round"/>
<polygon points="530.80,245.20 529.35,242.20 532.25,242.20" fill="#999999"/>
<path d="M535.3,262.9 L535.3,276 L509.3,276 L509.3,287" fill="none" stroke="#999999" stroke-width="0.85" stroke-linejoin="round"/>
<polygon points="509.30,289.20 507.85,286.20 510.75,286.20" fill="#999999"/>
<path d="M290.6,312.5 L290.6,343" fill="none" stroke="#999999" stroke-width="0.85" stroke-linejoin="round"/>
<polygon points="290.60,310.30 289.15,313.30 292.05,313.30" fill="#999999"/>
<polygon points="290.60,345.50 289.15,342.50 292.05,342.50" fill="#999999"/>
<path d="M334,363 L357.8,363 L357.8,323.8 L409.1,323.8" fill="none" stroke="#151515" stroke-width="1.5" stroke-linejoin="round"/>
<path d="M527.4,324 L564.7,324 L564.7,311 L591.6,311" fill="none" stroke="#151515" stroke-width="1.5" stroke-linejoin="round"/>
<path d="M630.2,295.7 L630.2,305.9" fill="none" stroke="#999999" stroke-width="0.85" stroke-linejoin="round"/>
<path d="M629.5,279.4 L629.5,232.5" fill="none" stroke="#999999" stroke-width="0.85" stroke-linejoin="round"/>
<polygon points="629.50,230.20 628.05,233.20 630.95,233.20" fill="#999999"/>
<path d="M467.8,358.6 L467.8,369.4" fill="none" stroke="#999999" stroke-width="0.85" stroke-linejoin="round"/>
<path d="M469.8,386.6 L469.8,396.3" fill="none" stroke="#999999" stroke-width="0.85" stroke-linejoin="round"/>
<path d="M441.6,419.4 L431.8,419.4 L431.8,361.5" fill="none" stroke="#999999" stroke-width="0.85" stroke-linejoin="round"/>
<polygon points="431.80,359.30 430.35,362.30 433.25,362.30" fill="#999999"/>
<path d="M469.6,452.2 L469.6,445" fill="none" stroke="#999999" stroke-width="0.85" stroke-linejoin="round"/>
<polygon points="469.60,443.20 468.15,446.20 471.05,446.20" fill="#999999"/>
<path d="M498,419.6 L593.5,419.6" fill="none" stroke="#999999" stroke-width="0.85" stroke-linejoin="round"/>
<polygon points="596.20,419.60 593.20,418.15 593.20,421.05" fill="#999999"/>
<path d="M543,380.8 L501.6,380.8 L501.6,361.5" fill="none" stroke="#999999" stroke-width="0.85" stroke-linejoin="round"/>
<polygon points="501.60,359.30 500.15,362.30 503.05,362.30" fill="#999999"/>
<path d="M613.3,386.7 L613.3,380.8 L562.5,380.8" fill="none" stroke="#999999" stroke-width="0.85" stroke-linejoin="round"/>
<polygon points="560.20,380.80 563.20,379.35 563.20,382.25" fill="#999999"/>
<path d="M632,386.7 L632,349.5" fill="none" stroke="#999999" stroke-width="0.85" stroke-linejoin="round"/>
<polygon points="632.00,347.20 630.55,350.20 633.45,350.20" fill="#999999"/>
<path d="M272.1,403.6 L272.1,384.5" fill="none" stroke="#999999" stroke-width="0.85" stroke-linejoin="round"/>
<polygon points="272.10,382.20 270.65,385.20 273.55,385.20" fill="#999999"/>
<path d="M306.8,440.7 L306.8,384.5" fill="none" stroke="#999999" stroke-width="0.85" stroke-linejoin="round"/>
<polygon points="306.80,382.20 305.35,385.20 308.25,385.20" fill="#999999"/>
<rect x="247.3" y="209.6" width="49.3" height="24.3" rx="12" fill="#fce7a2" stroke="#555" stroke-width="0.6"/>
<text x="272" y="223.8" font-size="4.87" font-weight="bold" font-style="normal" fill="#222" text-anchor="middle">STRATA/CLIENT</text>
<rect x="312" y="207.3" width="349.6" height="22" rx="11" fill="#c8e6ab" stroke="#8fae85" stroke-width="0.6"/>
<path d="M408.4,207.6 V229 M559.9,207.6 V229" stroke="#9cb894" stroke-width="0.5"/>
<text x="360.6" y="217" font-size="4.56" font-weight="normal" font-style="italic" fill="#666" text-anchor="middle">CLIENT USER ACCESS</text>
<text x="360.6" y="223.3" font-size="5.02" font-weight="normal" font-style="italic" fill="#666" text-anchor="middle">(Data Input/Output)</text>
<text x="483.5" y="221.2" font-size="5.21" font-weight="bold" font-style="italic" fill="#555" text-anchor="middle">SOLARAU FRONTEND DATA APP</text>
<text x="613.2" y="217" font-size="4.52" font-weight="normal" font-style="italic" fill="#666" text-anchor="middle">TECHNICAL USER ACCESS</text>
<text x="613.2" y="223.3" font-size="4.73" font-weight="normal" font-style="italic" fill="#666" text-anchor="middle">(Data Input)</text>
<rect x="247.3" y="273.8" width="86.7" height="35.4" rx="17.7" fill="#90d1f3" stroke="#4f6d80" stroke-width="0.6"/>
<text x="290.6" y="289.6" font-size="5.87" font-weight="normal" font-style="normal" fill="#333" text-anchor="middle">Initiate/Query Job</text>
<text x="290.6" y="297.2" font-size="5.63" font-weight="normal" font-style="normal" fill="#333" text-anchor="middle">Access Data Records/STC</text>
<rect x="247.3" y="345.9" width="86.7" height="35.4" rx="17.7" fill="#5a9bbb" stroke="#3d6478" stroke-width="0.6"/>
<text x="290.6" y="360" font-size="7.14" font-weight="bold" font-style="normal" fill="#fff" text-anchor="middle">SOLAR AU</text>
<text x="290.6" y="367.6" font-size="4.91" font-weight="bold" font-style="normal" fill="#fff" text-anchor="middle">Initiate Job/Data Gateway</text>
<text x="290.6" y="374" font-size="4.81" font-weight="bold" font-style="normal" fill="#fff" text-anchor="middle">STC/Documentation</text>
<path d="M399,255 H421.75 A8.650000000000006,8.650000000000006 0 0 1 421.75,272.3 H399 Q398,272.3 398,271.3 V256 Q398,255 399,255 Z" fill="#f9c4bb" stroke="#a06b66" stroke-width="0.6"/>
<text x="413.5" y="262.3" font-size="4.61" font-weight="bold" font-style="normal" fill="#333" text-anchor="middle">Data</text>
<text x="413.5" y="268.5" font-size="5.0" font-weight="bold" font-style="normal" fill="#333" text-anchor="middle">Valadation</text>
<path d="M520.4,245.2 H542.9499999999999 A8.849999999999994,8.849999999999994 0 0 1 542.9499999999999,262.9 H520.4 Q519.4,262.9 519.4,261.9 V246.2 Q519.4,245.2 520.4,245.2 Z" fill="#f9c4bb" stroke="#a06b66" stroke-width="0.6"/>
<text x="534.9" y="252.5" font-size="4.61" font-weight="bold" font-style="normal" fill="#333" text-anchor="middle">Data</text>
<text x="534.9" y="258.8" font-size="5.0" font-weight="bold" font-style="normal" fill="#333" text-anchor="middle">Valadation</text>
<rect x="409.1" y="289.3" width="118.3" height="69.3" rx="10" fill="#8dbcd4" stroke="#4d7d96" stroke-width="0.8"/>
<path d="M441.6,312 L445.7,312 L445.7,331.7 L450,331.7" fill="none" stroke="#6d8796" stroke-width="0.55" stroke-linejoin="round"/>
<polygon points="451.90,331.70 450.10,330.80 450.10,332.60" fill="#6d8796"/>
<path d="M498,312 L491.2,312 L491.2,331.7 L486,331.7" fill="none" stroke="#6d8796" stroke-width="0.55" stroke-linejoin="round"/>
<polygon points="484.00,331.70 485.80,330.80 485.80,332.60" fill="#6d8796"/>
<path d="M419.4,301.374 A11.100000000000023,3.774000000000008 0 0 1 441.6,301.374 V322.826 A11.100000000000023,3.774000000000008 0 0 1 419.4,322.826 Z" fill="#fbe593" stroke="#555" stroke-width="0.6"/>
<path d="M419.4,301.374 A11.100000000000023,3.774000000000008 0 0 0 441.6,301.374" fill="none" stroke="#555" stroke-width="0.6"/>
<text x="430.5" y="313" font-size="2.92" font-weight="bold" font-style="normal" fill="#333" text-anchor="middle">ERP</text>
<text x="430.5" y="316.8" font-size="3.03" font-weight="bold" font-style="normal" fill="#333" text-anchor="middle">(NETSUITE)</text>
<path d="M451.9,320.657 A16.05000000000001,5.457000000000004 0 0 1 484,320.657 V343.843 A16.05000000000001,5.457000000000004 0 0 1 451.9,343.843 Z" fill="#fbe593" stroke="#555" stroke-width="0.6"/>
<path d="M451.9,320.657 A16.05000000000001,5.457000000000004 0 0 0 484,320.657" fill="none" stroke="#555" stroke-width="0.6"/>
<text x="468" y="331.2" font-size="3.2" font-weight="bold" font-style="normal" fill="#333" text-anchor="middle">PROJECT/</text>
<text x="468" y="335.9" font-size="3.18" font-weight="bold" font-style="normal" fill="#333" text-anchor="middle">SERVICES</text>
<text x="468" y="340.6" font-size="3.57" font-weight="bold" font-style="normal" fill="#333" text-anchor="middle">MANAGEMENT</text>
<path d="M498,301.374 A11.100000000000023,3.774000000000008 0 0 1 520.2,301.374 V322.826 A11.100000000000023,3.774000000000008 0 0 1 498,322.826 Z" fill="#fbe593" stroke="#555" stroke-width="0.6"/>
<path d="M498,301.374 A11.100000000000023,3.774000000000008 0 0 0 520.2,301.374" fill="none" stroke="#555" stroke-width="0.6"/>
<text x="509.1" y="313" font-size="3.29" font-weight="bold" font-style="normal" fill="#333" text-anchor="middle">WEBSITE</text>
<text x="509.1" y="316.8" font-size="3.23" font-weight="bold" font-style="normal" fill="#333" text-anchor="middle">FRONTEND)</text>
<text x="368.3" y="335.8" font-size="5.25" font-weight="normal" font-style="normal" fill="#111" text-anchor="start">Client/Sales</text>
<text x="368.3" y="342.9" font-size="5.29" font-weight="normal" font-style="normal" fill="#111" text-anchor="start">Engagement</text>
<text x="554.3" y="333.6" font-size="5.18" font-weight="normal" font-style="normal" fill="#1a1a1a" text-anchor="middle">Project Manager</text>
<text x="554.3" y="340.4" font-size="5.14" font-weight="normal" font-style="normal" fill="#1a1a1a" text-anchor="middle">Oversight</text>
<path d="M606.5,279.4 H654.7 Q650.5,287.5 654.7,295.7 H606.5 Q603.3,287.5 606.5,279.4 Z" fill="#a9d8f4" stroke="#5a7080" stroke-width="0.55"/>
<text x="629" y="283.6" font-size="3.57" font-weight="bold" font-style="normal" fill="#222" text-anchor="middle">Data Collection</text>
<text x="629" y="288" font-size="3.3" font-weight="normal" font-style="normal" fill="#333" text-anchor="middle">STC (Installs)</text>
<text x="629" y="292.6" font-size="3.77" font-weight="normal" font-style="normal" fill="#333" text-anchor="middle">Documentation/Imagery</text>
<rect x="591.6" y="305.9" width="69.9" height="40.7" rx="1.5" fill="#fff" stroke="#6a6a6a" stroke-width="0.6"/>
<text x="626.5" y="327.6" font-size="4.86" font-weight="bold" font-style="normal" fill="#333" text-anchor="middle">Installation Services</text>
<path d="M455,369.4 H477.4 A8.600000000000023,8.600000000000023 0 0 1 477.4,386.6 H455 Q454,386.6 454,385.6 V370.4 Q454,369.4 455,369.4 Z" fill="#f9c4bb" stroke="#a06b66" stroke-width="0.6"/>
<text x="469.5" y="377.2" font-size="5.07" font-weight="bold" font-style="normal" fill="#333" text-anchor="middle">Data</text>
<text x="469.5" y="383.6" font-size="5.4" font-weight="bold" font-style="normal" fill="#333" text-anchor="middle">Valadation</text>
<path d="M544,372 H551.2 A8.300000000000011,8.300000000000011 0 0 1 551.2,388.6 H544 Q543,388.6 543,387.6 V373 Q543,372 544,372 Z" fill="#fcd89c" stroke="#b08a50" stroke-width="0.6"/>
<text x="550.6" y="382.2" font-size="4.84" font-weight="bold" font-style="normal" fill="#333" text-anchor="middle">Query</text>
<rect x="417" y="391.6" width="29.5" height="5.4" fill="#fff"/>
<text x="431.8" y="396.2" font-size="4.89" font-weight="bold" font-style="normal" fill="#222" text-anchor="middle">Query/Issue</text>
<path d="M469.8,396.3 L498,419.6 L469.8,442.9 L441.6,419.6 Z" fill="#6fa7dc" stroke="#3f6589" stroke-width="0.6" stroke-linejoin="round"/>
<text x="469.8" y="418.9" font-size="2.99" font-weight="bold" font-style="normal" fill="#223" text-anchor="middle">Technical Department</text>
<text x="469.8" y="422.6" font-size="3.1" font-weight="normal" font-style="normal" fill="#334" text-anchor="middle">Feasibility Analysis</text>
<rect x="535.5" y="416.6" width="24" height="5.6" fill="#fff"/>
<text x="547.6" y="421.4" font-size="4.71" font-weight="bold" font-style="normal" fill="#222" text-anchor="middle">Approved</text>
<path d="M452.3,452.2 H491.6 L487.1,475 H447.8 Z" fill="#fff" stroke="#555" stroke-width="0.65" stroke-linejoin="round"/>
<text x="469.7" y="461.8" font-size="3.97" font-weight="normal" font-style="normal" fill="#222" text-anchor="middle">Technical Solution</text>
<text x="469.7" y="466.8" font-size="3.88" font-weight="normal" font-style="normal" fill="#222" text-anchor="middle">Design/Development</text>
<rect x="596.7" y="386.7" width="70.1" height="55.9" rx="1.5" fill="#cbe8b1" stroke="#4f5f48" stroke-width="0.7"/>
<path d="M604.1,386.9 V442.4 M659.8,386.9 V442.4" stroke="#4f5f48" stroke-width="0.6"/>
<text x="631.7" y="408.5" font-size="4.73" font-weight="bold" font-style="normal" fill="#333" text-anchor="middle">WAREHOUSE</text>
<text x="631.7" y="415" font-size="4.71" font-weight="bold" font-style="normal" fill="#333" text-anchor="middle">/ LOGISTICS</text>
<text x="631.7" y="420.2" font-size="3.84" font-weight="normal" font-style="normal" fill="#444" text-anchor="middle">Initiate Stock picking and</text>
<text x="631.7" y="424.7" font-size="3.86" font-weight="normal" font-style="normal" fill="#444" text-anchor="middle">Logistics</text>
<path d="M253,403.6 H296 L291,431.9 H248 Z" fill="#fff" stroke="#555" stroke-width="0.65" stroke-linejoin="round"/>
<text x="272" y="413.6" font-size="3.57" font-weight="bold" font-style="normal" fill="#222" text-anchor="middle">PROCUREMENT</text>
<text x="272" y="418.3" font-size="3.72" font-weight="bold" font-style="normal" fill="#222" text-anchor="middle">ADMINISTRATION</text>
<text x="272" y="423.2" font-size="3.84" font-weight="bold" font-style="normal" fill="#222" text-anchor="middle">RESOURCING</text>
<path d="M290.5,440.7 H328.2 L323.2,464.8 H285.5 Z" fill="#fff" stroke="#555" stroke-width="0.65" stroke-linejoin="round"/>
<text x="306.8" y="451.4" font-size="3.63" font-weight="bold" font-style="normal" fill="#222" text-anchor="middle">MARKETING /</text>
<text x="306.8" y="456.6" font-size="3.76" font-weight="bold" font-style="normal" fill="#222" text-anchor="middle">COMMUNICATIONS</text>
</g>
</g>

<!-- GLARE -->
<polygon clip-path="url(#lidClip)" points="395,109 760,109 760,530 651,530" fill="url(#gGlare)"/>
</svg>
</body></html>
